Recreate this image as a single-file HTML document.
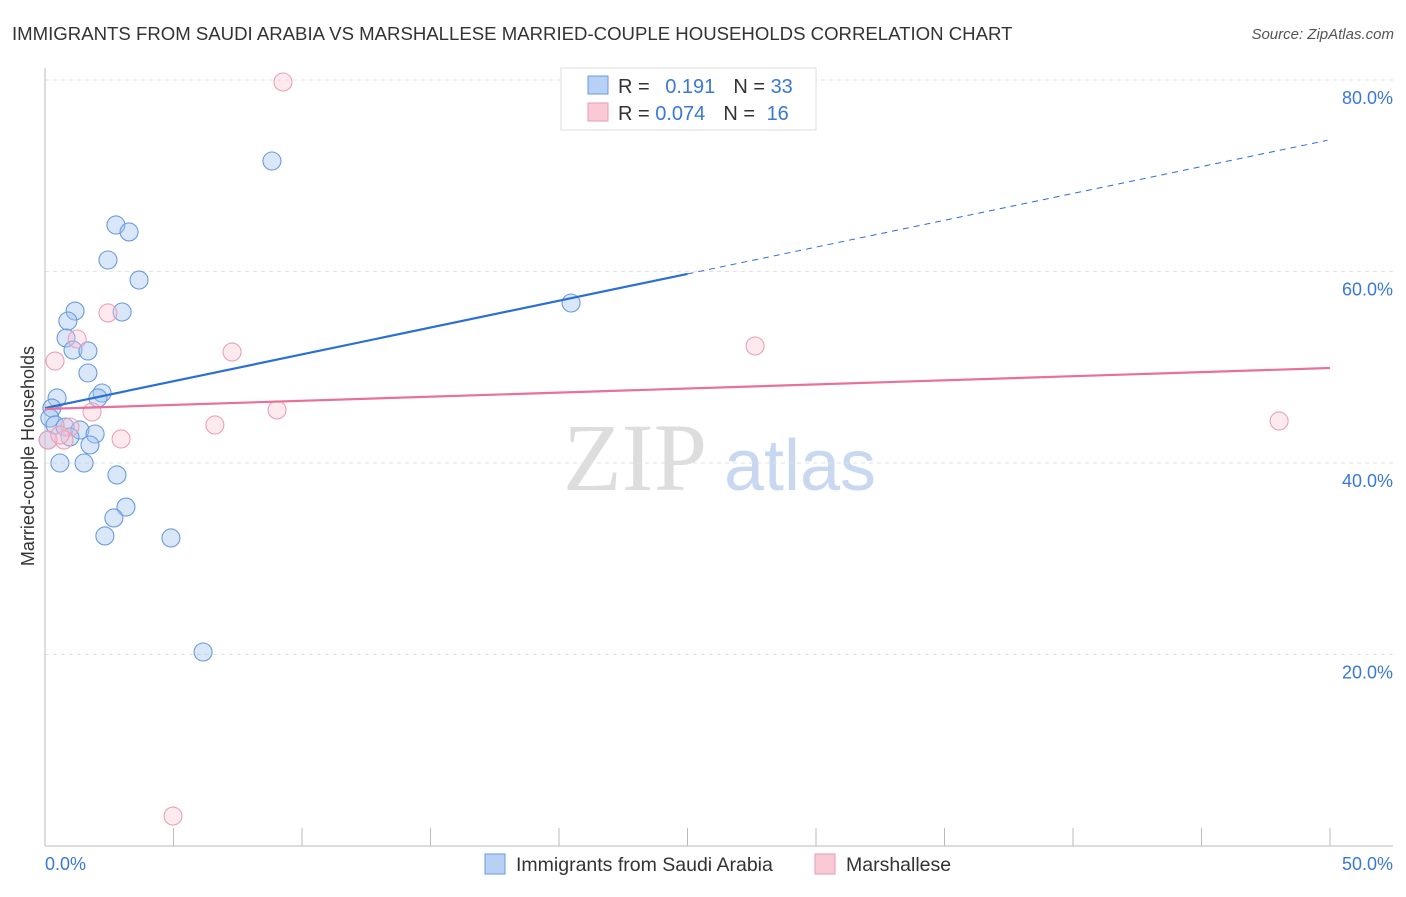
<!DOCTYPE html>
<html><head><meta charset="utf-8"><style>
body{margin:0;background:#fff;font-family:"Liberation Sans",sans-serif;}
svg text{font-family:"Liberation Sans",sans-serif;}
</style></head><body>
<svg id="chart" width="1406" height="892">
<text x="12" y="40" font-size="18.6" fill="#333">IMMIGRANTS FROM SAUDI ARABIA VS MARSHALLESE MARRIED-COUPLE HOUSEHOLDS CORRELATION CHART</text>
<text x="1394" y="39" font-size="15" fill="#555" text-anchor="end" font-style="italic">Source: ZipAtlas.com</text>
<text x="635" y="490" font-size="96" fill="#ddd" style="font-family:'Liberation Serif',serif" text-anchor="middle">ZIP</text>
<text x="800" y="490" font-size="72" fill="#c8d8f0" text-anchor="middle">atlas</text>
<g id="grid"></g><g id="axes"></g><g id="marks"></g>
<text transform="translate(34,456) rotate(-90)" font-size="18" fill="#333" text-anchor="middle">Married-couple Households</text>
<text x="45" y="870" font-size="18" fill="#3a78d8">0.0%</text>
<text x="1393" y="870" font-size="18" fill="#3a78d8" text-anchor="end">50.0%</text>
<g>
<rect x="561" y="68" width="255" height="62" fill="#fff" stroke="#ddd"/>
<rect x="588" y="76" width="20" height="18" fill="#b7d0f5" stroke="#6a9ae0"/>
<rect x="588" y="103" width="20" height="18" fill="#f9c9d6" stroke="#e99ab0"/>
<text x="618" y="93" font-size="20" fill="#333">R = <tspan fill="#3a78d8" dx="10">0.191</tspan><tspan dx="18" fill="#333">N = </tspan><tspan fill="#3a78d8">33</tspan></text>
<text x="618" y="120" font-size="20" fill="#333">R = <tspan fill="#3a78d8">0.074</tspan><tspan dx="18" fill="#333">N = </tspan><tspan fill="#3a78d8" dx="6">16</tspan></text>
</g>
<g>
<rect x="485" y="854" width="20" height="20" fill="#b7d0f5" stroke="#6a9ae0"/>
<text x="516" y="871" font-size="19.5" fill="#333">Immigrants from Saudi Arabia</text>
<rect x="815" y="854" width="20" height="20" fill="#f9c9d6" stroke="#e99ab0"/>
<text x="846" y="871" font-size="19.5" fill="#333">Marshallese</text>
</g>
</svg>
<script>
const yTicks=[20,40,60,80];
const yTickLabels=["20.0%","40.0%","60.0%","80.0%"];
const xTicks=[0,5,10,15,20,25,30,35,40,45,50];
const saudiX=[2.76,3.27,2.45,3.66,1.17,3.0,0.89,0.82,1.09,1.67,1.67,2.22,2.06,0.47,0.27,0.19,0.39,0.78,1.36,0.97,1.95,1.75,0.58,1.52,2.8,3.15,2.68,2.33,4.9,6.15,8.83,20.47,0.12];
const saudiY=[64.86,64.13,61.2,59.11,55.87,55.77,54.83,53.05,51.8,51.7,49.4,47.31,46.79,46.79,45.74,44.7,43.97,43.76,43.45,42.72,43.03,41.88,40.0,40.0,38.75,35.4,34.26,32.38,32.17,20.26,71.54,56.71,42.4];
const marshX=[9.26,2.45,1.25,0.39,7.28,27.63,1.83,9.03,6.61,0.97,0.74,2.96,48.02,4.98,0.12,0.58];
const marshY=[79.79,55.67,52.95,50.65,51.59,52.22,45.33,45.54,43.97,43.76,42.4,42.51,44.39,3.13,42.4,42.92];
const saudiTrend=[45.74,73.7];
const marshTrend=[45.64,49.92];
const NS='http://www.w3.org/2000/svg';
const X=v=>45+v/50*1285, Y=v=>846-v/80*766;
function mk(tag,attrs,parent){const e=document.createElementNS(NS,tag);for(const k in attrs)e.setAttribute(k,attrs[k]);document.getElementById(parent).appendChild(e);return e;}
yTicks.forEach((t,i)=>{
 const g=mk('line',{x1:45,x2:1393,y1:Y(t),y2:Y(t),stroke:'#e2e2e2','stroke-dasharray':'4,4'},'grid');
 
 
 const l=mk('text',{x:1393,y:Y(t)+24,'font-size':18,fill:'#3a78d8','text-anchor':'end'},'grid');
 l.textContent=yTickLabels[i];
 
 
});
const ax=mk('line',{x1:45,x2:45,y1:68,y2:846,stroke:'#bbb'},'axes');


const bx=mk('line',{x1:45,x2:1393,y1:846,y2:846,stroke:'#bbb'},'axes');


xTicks.forEach(t=>{
 const e=mk('line',{x1:X(t),x2:X(t),y1:846,y2:828,stroke:'#bbb'},'axes');
 
 
});
saudiX.forEach((x,i)=>{
 const c=mk('circle',{cx:X(x),cy:Y(saudiY[i]),r:9,fill:'rgba(160,196,240,0.4)',stroke:'#6a9ae0','stroke-width':1.1},'marks');
 
 
});
marshX.forEach((x,i)=>{
 const c=mk('circle',{cx:X(x),cy:Y(marshY[i]),r:9,fill:'rgba(248,195,210,0.35)',stroke:'#ec9fb6','stroke-width':1.1},'marks');
 
 
});
const sAt=v=>saudiTrend[0]+(saudiTrend[1]-saudiTrend[0])*v/49.9;
const t1=mk('line',{x1:X(0),y1:Y(sAt(0)),x2:X(25),y2:Y(sAt(25)),stroke:'#2a6fd6','stroke-width':2.2},'marks');


const t2=mk('line',{x1:X(25),y1:Y(sAt(25)),x2:X(49.9),y2:Y(sAt(49.9)),stroke:'#2a6fd6','stroke-width':1,'stroke-dasharray':'6,5'},'marks');


const t3=mk('line',{x1:X(0),y1:Y(marshTrend[0]),x2:X(50),y2:Y(marshTrend[1]),stroke:'#e8709a','stroke-width':2.2},'marks');


</script>
</body></html>
